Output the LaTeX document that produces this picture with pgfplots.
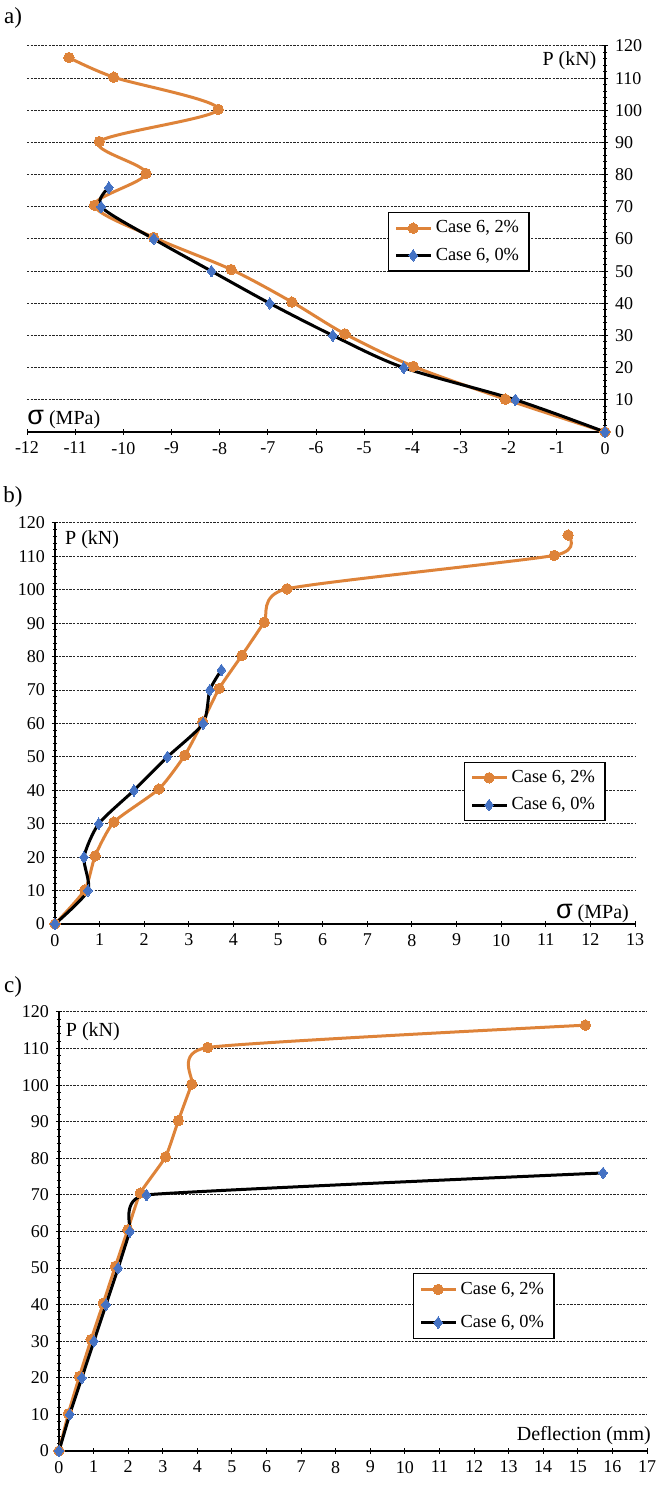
\documentclass[border=0pt]{standalone}
\usepackage{fontspec}
\setmainfont{Liberation Serif}
\newfontfamily\sigmafont{Liberation Sans}
\usepackage{pgfplots}
\usepackage{pgfplotstable}
\pgfplotsset{compat=1.18}

\definecolor{caseorange}{HTML}{DE8339}
\definecolor{caseblue}{HTML}{4472C4}

% load P (kN) against top stress, bottom stress and deflection
\pgfplotstableread{
P     sa      sb     d
0     0       0      0
10.2  -2.07   0.67   0.27
20.4  -3.98   0.90   0.59
30.5  -5.40   1.32   0.93
40.4  -6.50   2.33   1.28
50.5  -7.76   2.91   1.63
60.5  -9.37   3.31   1.99
70.5  -10.60  3.68   2.35
80.4  -9.53   4.19   3.08
90.3  -10.50  4.69   3.45
100.3 -8.03   5.20   3.84
110.3 -10.20  11.19  4.30
116.4 -11.13  11.50  15.22
}\casetwo
\pgfplotstableread{
P     sa      sb     d
0     0       0      0
10    -1.86   0.74   0.31
20    -4.18   0.65   0.66
30    -5.65   0.98   1.01
40    -6.96   1.77   1.36
50    -8.17   2.52   1.71
60    -9.37   3.32   2.05
70    -10.46  3.47   2.53
76    -10.30  3.73   15.73
}\casezero

\newcommand{\sig}{{\sigmafont\fontsize{13.5}{13.5}\selectfont σ}}

\tikzset{lbl/.style={font=\fontsize{10}{11}\selectfont, inner sep=0pt}}

\pgfplotsset{
  panel/.style={
    scale only axis,
    ymin=0, ymax=120,
    ytick={0,10,...,120},
    minor y tick num=4,
    tick align=outside,
    major tick length=3pt,
    minor tick length=2pt,
    ymajorgrids,
    major grid style={black!85, line width=0.5pt, dash pattern=on 1.2pt off 0.6pt},
    axis line style={black, line width=0.6pt},
    tick style={black, line width=0.5pt},
    every tick label/.append style={font=\fontsize{9}{10}\selectfont},
    /pgf/number format/assume math mode=true,
    legend cell align=left,
    legend style={font=\fontsize{9.2}{10}\selectfont, draw=black, line width=0.6pt,
      anchor=north west, row sep=2pt},
    clip=false,
  },
  orangeline/.style={caseorange, line width=1.5pt, smooth, mark=*, mark size=2.6pt,
    mark options={fill=caseorange, draw=caseorange, line width=0pt}},
  blackline/.style={black, line width=1.5pt, smooth, mark=diamond*, mark size=2.9pt,
    mark options={fill=caseblue, draw=caseblue, line width=0pt}},
}

\begin{document}
\begin{tikzpicture}[x=1pt,y=1pt]
\useasboundingbox (0,0) rectangle (332,745);

% a) top fibre stress
\node[font=\fontsize{11.5}{12}\selectfont] at (6.5,736) {a)};
\begin{axis}[panel, at={(13.5pt,529pt)}, anchor=south west, width=289pt, height=193pt,
  axis x line=bottom, axis y line=right, axis line style={-},
  xmin=-12, xmax=0, xtick={-12,...,0},
  legend style={at={(0.6246,0.57)}}]
\addplot[orangeline, tension=0.5] table[x=sa, y=P] {\casetwo};
\addlegendentry{Case 6, 2\%}
\addplot[blackline, tension=0.5] table[x=sa, y=P] {\casezero};
\addlegendentry{Case 6, 0\%}
\node[lbl, anchor=west] at (axis cs:-12,4.0) {\sig{} (MPa)};
\node[lbl, anchor=east] at (axis cs:-0.17,115.3) {P (kN)};
\end{axis}

% b) bottom fibre stress
\node[font=\fontsize{11.5}{12}\selectfont] at (6.5,496.5) {b)};
\begin{axis}[panel, at={(27.5pt,283pt)}, anchor=south west, width=290pt, height=200.5pt,
  axis x line=bottom, axis y line=left, axis line style={-},
  xmin=0, xmax=13, xtick={0,...,13},
  legend style={at={(0.705,0.405)}}]
\addplot[orangeline, tension=0.35] table[x=sb, y=P] {\casetwo};
\addlegendentry{Case 6, 2\%}
\addplot[blackline, tension=0.4] table[x=sb, y=P] {\casezero};
\addlegendentry{Case 6, 0\%}
\node[lbl, anchor=west] at (axis cs:0.22,115) {P (kN)};
\node[lbl, anchor=east] at (axis cs:12.87,3.2) {\sig{} (MPa)};
\end{axis}

% c) mid-span deflection
\node[font=\fontsize{11.5}{12}\selectfont] at (6.5,251.5) {c)};
\begin{axis}[panel, at={(29.5pt,19.5pt)}, anchor=south west, width=294pt, height=219.5pt,
  axis x line=bottom, axis y line=left, axis line style={-},
  xmin=0, xmax=17, xtick={0,...,17},
  legend style={at={(0.602,0.405)}, row sep=5pt}]
\addplot[orangeline, tension=0.3] table[x=d, y=P] {\casetwo};
\addlegendentry{Case 6, 2\%}
\addplot[blackline, tension=0.2] table[x=d, y=P] {\casezero};
\addlegendentry{Case 6, 0\%}
\node[lbl, anchor=west] at (axis cs:0.19,114.5) {P (kN)};
\node[lbl, anchor=east] at (axis cs:17.12,4.2) {Deflection (mm)};
\end{axis}
\end{tikzpicture}
\end{document}
